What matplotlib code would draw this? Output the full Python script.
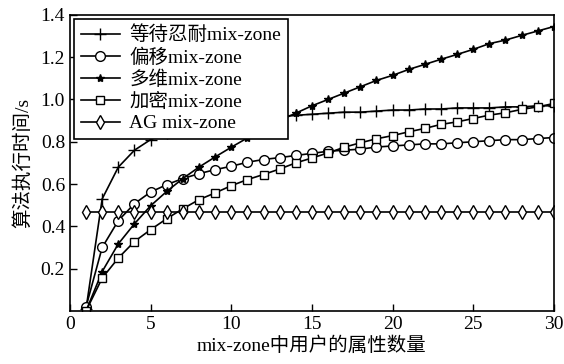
import matplotlib
matplotlib.use('Agg')
import matplotlib.pyplot as plt
import numpy as np

plt.rcParams['font.family'] = ['Liberation Serif', 'Noto Sans CJK SC']

# data
x = np.arange(1, 31)
wait = [0.01, 0.53, 0.68, 0.76, 0.81, 0.84, 0.86, 0.88, 0.89, 0.90,
        0.91, 0.915, 0.92, 0.925, 0.93, 0.935, 0.94, 0.94, 0.945, 0.95,
        0.95, 0.955, 0.955, 0.96, 0.96, 0.96, 0.965, 0.965, 0.97, 0.97]
offset = [0.02, 0.30, 0.427, 0.507, 0.562, 0.597, 0.626, 0.649, 0.668, 0.684,
          0.703, 0.716, 0.725, 0.735, 0.745, 0.755, 0.76, 0.765, 0.775, 0.78,
          0.785, 0.79, 0.79, 0.795, 0.80, 0.805, 0.81, 0.81, 0.815, 0.82]
multi = [0.0, 0.186, 0.317, 0.412, 0.497, 0.565, 0.626, 0.68, 0.728, 0.774,
         0.818, 0.86, 0.90, 0.935, 0.97, 1.0, 1.03, 1.06, 1.09, 1.114,
         1.142, 1.166, 1.19, 1.213, 1.237, 1.264, 1.281, 1.303, 1.324, 1.345]
encrypt = [0.0, 0.155, 0.25, 0.328, 0.384, 0.436, 0.483, 0.526, 0.558, 0.592,
           0.621, 0.645, 0.671, 0.70, 0.723, 0.747, 0.774, 0.795, 0.814, 0.829,
           0.847, 0.863, 0.882, 0.894, 0.91, 0.926, 0.937, 0.953, 0.965, 0.981]
ag = [0.47] * 30

fig = plt.figure(figsize=(5.64, 3.64), dpi=100)
ax = fig.add_axes([0.124, 0.146, 0.858, 0.813])

lw = 1.2
ax.plot(x, wait, color='black', lw=lw, marker='+', ms=8, mew=1.0, label='等待忍耐mix-zone')
ax.plot(x, offset, color='black', lw=lw, marker='o', ms=7, mfc='white', mew=1.0, label='偏移mix-zone')
ax.plot(x, multi, color='black', lw=lw, marker='*', ms=6, mfc='black', label='多维mix-zone')
ax.plot(x, encrypt, color='black', lw=lw, marker='s', ms=5.5, mfc='white', mew=1.0, label='加密mix-zone')
ax.plot(x, ag, color='black', lw=lw, marker='d', ms=7, mfc='white', mew=1.0, label='AG mix-zone')

ax.set_xlim(0, 30)
ax.set_ylim(0, 1.4)
ax.set_xticks([0, 5, 10, 15, 20, 25, 30])
ax.set_yticks([0.2, 0.4, 0.6, 0.8, 1.0, 1.2, 1.4])
ax.set_yticklabels(['%.1f' % v for v in [0.2, 0.4, 0.6, 0.8, 1.0, 1.2, 1.4]])
ax.tick_params(direction='in', length=5, width=1, labelsize=14, top=False, right=False)
for s in ax.spines.values():
    s.set_linewidth(1.2)

ax.set_xlabel('mix-zone中用户的属性数量', fontsize=14, labelpad=3)
ax.set_ylabel('算法执行时间/s', fontsize=14, labelpad=6)

leg = ax.legend(loc='upper left', fontsize=14, frameon=True, fancybox=False,
                edgecolor='black', framealpha=1, borderaxespad=0.2,
                handlelength=2.0, labelspacing=0.2, borderpad=0.35, handletextpad=0.5)
leg.get_frame().set_linewidth(1.2)

fig.savefig('out.png', dpi=100)
